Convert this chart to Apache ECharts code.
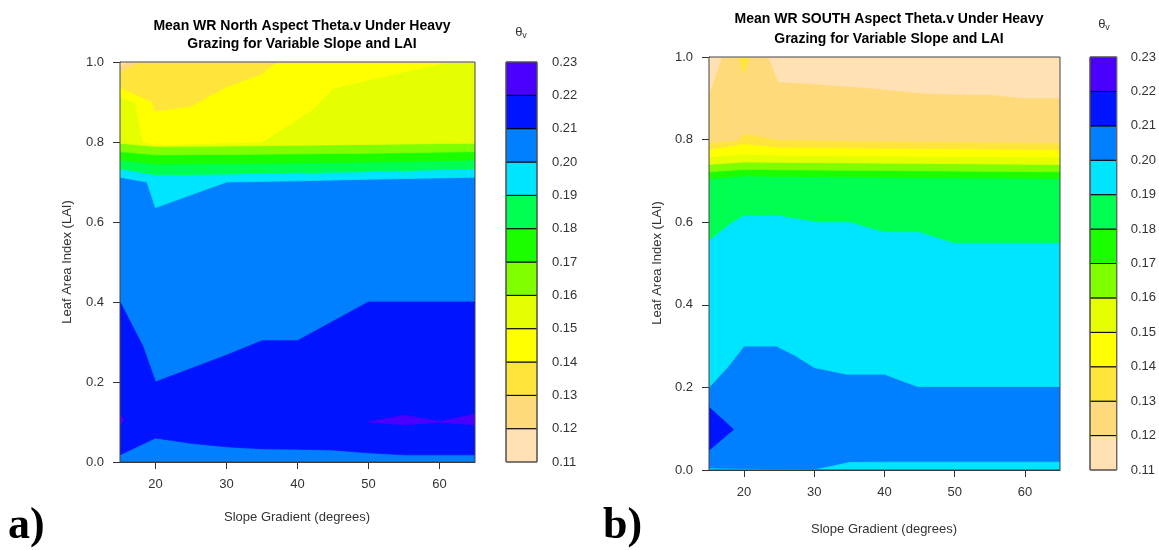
<!DOCTYPE html>
<html>
<head>
<meta charset="utf-8">
<title>Mean WR Theta.v under heavy grazing</title>
<script src="https://cdn.jsdelivr.net/npm/echarts@6/dist/echarts.min.js"></script>
<style>
  html, body { margin: 0; padding: 0; background: #fff; }
  #chart { width: 1159px; height: 550px; }
</style>
</head>
<body>
<div id="chart"></div>
<script>
(function () {
    'use strict';

    // colour key, bottom to top (0.11 .. 0.23)
    var thetaLevels = ['0.11', '0.12', '0.13', '0.14', '0.15', '0.16', '0.17', '0.18', '0.19', '0.20', '0.21', '0.22', '0.23'];
    var bandColors = ['#ffe1b4', '#ffda7a', '#ffe53b', '#ffff00', '#e5ff00', '#80ff00',
                      '#19ff00', '#00ff50', '#00e5ff', '#0080ff', '#0014ff', '#4a00ff'];
    var slopeTicks = [20, 30, 40, 50, 60];

    // ---- a) North aspect: contour lines as [slope, LAI] ----
    var nLow021 = [[15, 0.018], [20, 0.06], [25, 0.047], [30, 0.038], [35, 0.033], [40, 0.032], [45, 0.03], [50, 0.023], [55, 0.018], [65, 0.018]];
    var nHigh021 = [[15, 0.40], [18.2, 0.29], [20, 0.20], [30, 0.267], [35, 0.303], [40, 0.303], [50, 0.40], [65, 0.40]];
    var nBlobLeft022 = [[15, 0.118], [15.6, 0.105], [15, 0.095]];
    var nBlobRight022 = [[50, 0.10], [55, 0.117], [60, 0.101], [65, 0.12], [65, 0.093], [60, 0.099], [55, 0.093]];
    var nIso020 = [[15, 0.712], [18.8, 0.70], [20, 0.636], [30, 0.70], [40, 0.703], [50, 0.707], [65, 0.712]];
    var nIso019 = [[15, 0.733], [20, 0.718], [30, 0.72], [50, 0.726], [65, 0.733]];
    var nIso018 = [[15, 0.755], [20, 0.745], [30, 0.746], [50, 0.75], [65, 0.755]];
    var nIso017 = [[15, 0.776], [20, 0.768], [30, 0.769], [50, 0.772], [65, 0.776]];
    var nIso016 = [[15, 0.797], [20, 0.789], [30, 0.79], [50, 0.794], [65, 0.797]];
    var nIso015 = [[15, 0.912], [17.1, 0.90], [18.3, 0.80], [20, 0.793], [35, 0.80], [42, 0.88], [45, 0.934], [50, 0.955], [60.5, 0.997], [62, 1.0], [65, 1.0]];
    var nIso014 = [[15, 0.937], [19.5, 0.90], [20, 0.877], [25, 0.89], [30, 0.938], [35, 0.97], [37, 1.0], [65, 1.0]];
    var nIso013 = [[15, 0.975], [17.8, 1.0], [65, 1.0]];
    var nIso012 = [[15, 0.99], [16.1, 1.0], [65, 1.0]];

    // ---- b) South aspect ----
    var sLow020 = [[15, 0.003], [18, 0.002], [30, 0.0], [35, 0.018], [40, 0.019], [65, 0.019]];
    var sIso020 = [[15, 0.20], [17.7, 0.25], [20, 0.30], [24.6, 0.30], [27.2, 0.278], [30, 0.248], [34.6, 0.232], [40, 0.232], [44.7, 0.202], [65, 0.202]];
    var sBlob021 = [[15, 0.152], [18.5, 0.098], [15, 0.048]];
    var sIso019 = [[15, 0.557], [18.3, 0.601], [20, 0.617], [25, 0.617], [30.4, 0.601], [35, 0.601], [40, 0.577], [45, 0.577], [50, 0.55], [65, 0.55]];
    var sIso018 = [[15, 0.706], [20, 0.712], [25, 0.711], [65, 0.706]];
    var sIso017 = [[15, 0.722], [20, 0.728], [25, 0.727], [65, 0.722]];
    var sIso016 = [[15, 0.740], [20, 0.746], [25, 0.745], [65, 0.740]];
    var sIso015 = [[15, 0.758], [20, 0.765], [25, 0.762], [65, 0.758]];
    var sIso014 = [[15, 0.776], [20, 0.79], [25, 0.782], [40, 0.779], [65, 0.776]];
    var sIso013 = [[15, 0.793], [19, 0.798], [20, 0.815], [25, 0.80], [35, 0.797], [50, 0.795], [65, 0.792]];
    var sSpike013 = [[19.2, 1.0], [19.9, 0.96], [20.8, 1.0]];
    var sIso012 = [[15, 0.911], [16.8, 1.0], [23.5, 1.0], [24.9, 0.94], [29.4, 0.936], [35, 0.929], [40, 0.922], [45, 0.913], [50, 0.91], [55, 0.909], [60, 0.901], [65, 0.901]];

    var fullBox = [[15, 0], [65, 0], [65, 1], [15, 1]];
    function above(line) { return line.concat([[65, 1], [15, 1]]); }
    function below(line) { return line.concat([[65, 0], [15, 0]]); }
    function between(lo, hi) { return lo.concat(hi.slice().reverse()); }

    // painted in order, later regions on top
    var northRegions = [
        [9, fullBox],
        [10, between(nLow021, nHigh021)],
        [11, nBlobLeft022],
        [11, nBlobRight022],
        [8, above(nIso020)],
        [7, above(nIso019)],
        [6, above(nIso018)],
        [5, above(nIso017)],
        [4, above(nIso016)],
        [3, above(nIso015)],
        [2, above(nIso014)],
        [1, above(nIso013)],
        [0, above(nIso012)]
    ];
    var southRegions = [
        [9, fullBox],
        [8, below(sLow020)],
        [8, above(sIso020)],
        [10, sBlob021],
        [7, above(sIso019)],
        [6, above(sIso018)],
        [5, above(sIso017)],
        [4, above(sIso016)],
        [3, above(sIso015)],
        [2, above(sIso014)],
        [1, above(sIso013)],
        [2, sSpike013],
        [0, above(sIso012)]
    ];

    var textColor = '#333';
    var fontFamily = '"Liberation Sans", Arial, sans-serif';

    function contourSeries(idx, regions) {
        return {
            type: 'custom',
            xAxisIndex: idx,
            yAxisIndex: idx,
            clip: true,
            silent: true,
            z: 2,
            data: regions.map(function (r, i) { return [i]; }),
            renderItem: function (params, api) {
                var r = regions[params.dataIndex];
                var color = bandColors[r[0]];
                return {
                    type: 'polygon',
                    shape: { points: r[1].map(function (p) { return api.coord(p); }) },
                    style: { fill: color, stroke: color, lineWidth: 0.8 }
                };
            }
        };
    }

    function keySeries(idx) {
        return {
            type: 'custom',
            xAxisIndex: idx,
            yAxisIndex: idx,
            silent: true,
            z: 2,
            data: bandColors.map(function (c, i) { return [i]; }),
            renderItem: function (params, api) {
                var i = params.dataIndex;
                var p0 = api.coord([0, i + 1]);
                var p1 = api.coord([1, i]);
                return {
                    type: 'rect',
                    shape: { x: p0[0], y: p0[1], width: p1[0] - p0[0], height: p1[1] - p0[1] },
                    style: { fill: bandColors[i], stroke: '#000', lineWidth: 1 }
                };
            }
        };
    }

    function slopeAxis(idx) {
        return {
            gridIndex: idx, type: 'value', min: 15, max: 65,
            axisLine: { show: true, lineStyle: { color: '#333' } },
            axisTick: { show: true, length: 7, customValues: slopeTicks, lineStyle: { color: '#333' } },
            axisLabel: { customValues: slopeTicks, margin: 16, color: textColor, fontSize: 13, fontFamily: fontFamily },
            splitLine: { show: false }
        };
    }

    function laiAxis(idx) {
        return {
            gridIndex: idx, type: 'value', min: 0, max: 1, interval: 0.2,
            axisLine: { show: true, lineStyle: { color: '#333' } },
            axisTick: { show: true, length: 7, lineStyle: { color: '#333' } },
            axisLabel: {
                margin: 16, color: textColor, fontSize: 13, fontFamily: fontFamily,
                formatter: function (v) { return v.toFixed(1); }
            },
            splitLine: { show: false }
        };
    }

    function keyXAxis(idx) {
        return { gridIndex: idx, type: 'value', min: 0, max: 1, show: false };
    }

    function keyYAxis(idx, margin) {
        return {
            gridIndex: idx, type: 'value', min: 0, max: 12, interval: 1, position: 'right',
            axisLine: { show: false }, axisTick: { show: false }, splitLine: { show: false },
            axisLabel: {
                margin: margin, color: textColor, fontSize: 13, fontFamily: fontFamily,
                formatter: function (v) { return thetaLevels[v]; }
            }
        };
    }

    function plainText(text, x, y, extra) {
        var style = { text: text, fill: textColor, font: '13px ' + fontFamily, align: 'center', verticalAlign: 'middle' };
        var el = { type: 'text', x: x, y: y, style: style, silent: true };
        if (extra) {
            Object.keys(extra).forEach(function (k) { el[k] = extra[k]; });
        }
        return el;
    }

    function thetaLabel(x, y) {
        return {
            type: 'text', x: x, y: y, silent: true,
            style: {
                text: '{t|θ}{s|v}', align: 'center', verticalAlign: 'middle',
                rich: {
                    t: { fontSize: 13, fill: textColor, fontFamily: fontFamily },
                    s: { fontSize: 9, fill: textColor, fontFamily: fontFamily, padding: [8, 0, 0, 0] }
                }
            }
        };
    }

    function panelTag(text, x, y) {
        return {
            type: 'text', x: x, y: y, silent: true,
            style: { text: text, fill: '#000', font: 'bold 44px "Liberation Serif", "Times New Roman", serif', align: 'left', verticalAlign: 'middle' }
        };
    }

    var chart = echarts.init(document.getElementById('chart'), null, { renderer: 'canvas' });

    chart.setOption({
        animation: false,
        backgroundColor: '#fff',
        title: [
            {
                text: 'Mean WR North Aspect Theta.v Under Heavy\nGrazing for Variable Slope and LAI',
                left: 297, top: 12, textAlign: 'center',
                textStyle: { fontSize: 14, fontWeight: 'bold', color: '#000', lineHeight: 18, fontFamily: fontFamily }
            },
            {
                text: 'Mean WR SOUTH Aspect Theta.v Under Heavy\nGrazing for Variable Slope and LAI',
                left: 884, top: 4, textAlign: 'center',
                textStyle: { fontSize: 14, fontWeight: 'bold', color: '#000', lineHeight: 20, fontFamily: fontFamily }
            }
        ],
        grid: [
            { left: 120, top: 62, width: 355, height: 400, show: true, borderColor: '#444', borderWidth: 1, z: 5 },
            { left: 709, top: 57, width: 351, height: 413, show: true, borderColor: '#444', borderWidth: 1, z: 5 },
            { left: 506, top: 62, width: 31, height: 400, show: true, borderColor: '#777', borderWidth: 1, z: 5 },
            { left: 1090, top: 57, width: 30, height: 413, show: true, borderColor: '#777', borderWidth: 1, z: 5 }
        ],
        xAxis: [slopeAxis(0), slopeAxis(1), keyXAxis(2), keyXAxis(3)],
        yAxis: [laiAxis(0), laiAxis(1), keyYAxis(2, 15), keyYAxis(3, 14)],
        series: [
            contourSeries(0, northRegions),
            contourSeries(1, southRegions),
            keySeries(2),
            keySeries(3)
        ],
        graphic: [
            plainText('Slope Gradient (degrees)', 297, 517),
            plainText('Slope Gradient (degrees)', 884, 529),
            plainText('Leaf Area Index (LAI)', 67, 262, { rotation: Math.PI / 2 }),
            plainText('Leaf Area Index (LAI)', 657, 263, { rotation: Math.PI / 2 }),
            thetaLabel(521, 32),
            thetaLabel(1104, 24),
            panelTag('a)', 8, 527),
            panelTag('b)', 603, 527)
        ]
    });
})();
</script>
</body>
</html>
